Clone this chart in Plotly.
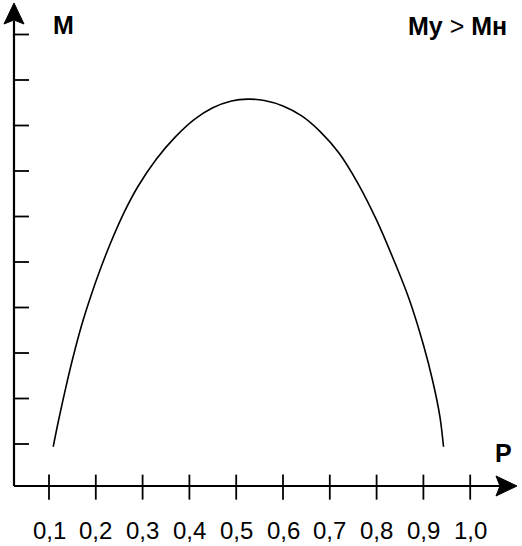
import plotly.graph_objects as go

# Curve M(P): points along the characteristic
P = [0.109, 0.120, 0.135, 0.150, 0.170, 0.190, 0.210, 0.230, 0.260, 0.290,
     0.330, 0.370, 0.410, 0.450, 0.490, 0.525, 0.560, 0.600, 0.640, 0.680,
     0.720, 0.760, 0.800, 0.840, 0.870, 0.900, 0.920, 0.935, 0.943]
M = [0.94, 1.50, 2.20, 2.85, 3.62, 4.27, 4.85, 5.38, 6.08, 6.66,
     7.27, 7.75, 8.13, 8.39, 8.54, 8.58, 8.55, 8.43, 8.21, 7.86,
     7.39, 6.73, 5.92, 4.96, 4.17, 3.18, 2.38, 1.62, 0.94]

# Axis ticks
P_TICKS = [0.1, 0.2, 0.3, 0.4, 0.5, 0.6, 0.7, 0.8, 0.9, 1.0]
P_LABELS = ["0,1", "0,2", "0,3", "0,4", "0,5", "0,6", "0,7", "0,8", "0,9", "1,0"]
M_TICKS = [1, 2, 3, 4, 5, 6, 7, 8, 9, 10]

W, H = 522, 546
X_RANGE = [-0.004701, 1.110684]
Y_RANGE = [-1.24176, 10.75824]

# positions of the drawn axis lines, in data units
AX_P = 0.0252
AX_M = 0.077


def px(x, y):
    """Pixel position -> paper coordinates."""
    return x / W, 1 - y / H


fig = go.Figure()
fig.add_trace(go.Scatter(x=P, y=M, mode="lines",
                         line=dict(color="black", width=1.6, shape="spline", smoothing=1.0),
                         hoverinfo="skip"))

shapes = []
# main axes lines
shapes.append(dict(type="line", xref="x", yref="y", x0=AX_P, x1=AX_P,
                   y0=AX_M, y1=Y_RANGE[1] - 0.45, line=dict(color="black", width=2.2)))
shapes.append(dict(type="line", xref="x", yref="y", x0=AX_P, x1=X_RANGE[1] - 0.03,
                   y0=AX_M, y1=AX_M, line=dict(color="black", width=2.2)))


def tri(points):
    pts = [px(*p) for p in points]
    return "M " + " L ".join(f"{a:.5f},{b:.5f}" for a, b in pts) + " Z"


# arrow heads
shapes.append(dict(type="path", xref="paper", yref="paper",
                   path=tri([(14, 3), (4, 24), (14, 20), (24, 24)]),
                   fillcolor="black", line=dict(color="black", width=1)))
shapes.append(dict(type="path", xref="paper", yref="paper",
                   path=tri([(517, 486), (496, 476), (500, 486), (496, 496)]),
                   fillcolor="black", line=dict(color="black", width=1)))

# y ticks (to the right of the axis)
for m in M_TICKS:
    shapes.append(dict(type="line", xref="x", yref="y", x0=AX_P, x1=AX_P + 0.032,
                       y0=m, y1=m, line=dict(color="black", width=1.8)))
# x ticks (crossing the axis)
for p in P_TICKS:
    shapes.append(dict(type="line", xref="x", yref="y", x0=p, x1=p,
                       y0=AX_M - 0.30, y1=AX_M + 0.25, line=dict(color="black", width=1.8)))

annotations = []
for p, lab in zip(P_TICKS, P_LABELS):
    annotations.append(dict(x=p, y=px(0, 530)[1], xref="x", yref="paper", text=lab,
                            showarrow=False, xanchor="center", yanchor="middle",
                            font=dict(family="Liberation Sans, Arial", size=24, color="black")))

bold = dict(family="Liberation Sans, Arial", size=25, color="black")
annotations.append(dict(x=px(63, 0)[0], y=px(0, 25)[1], xref="paper", yref="paper",
                        text="<b>M</b>", showarrow=False, xanchor="center", yanchor="middle",
                        font=bold))
annotations.append(dict(x=px(509, 0)[0], y=px(0, 26)[1], xref="paper", yref="paper",
                        text="<b>My</b> > <b>Mн</b>", showarrow=False, xanchor="right",
                        yanchor="middle", font=bold))
annotations.append(dict(x=px(503, 0)[0], y=px(0, 453)[1], xref="paper", yref="paper",
                        text="<b>P</b>", showarrow=False, xanchor="center", yanchor="middle",
                        font=bold))

fig.update_layout(
    width=W, height=H,
    margin=dict(l=0, r=0, t=0, b=0),
    paper_bgcolor="white", plot_bgcolor="white",
    showlegend=False,
    xaxis=dict(range=X_RANGE, visible=False, fixedrange=True),
    yaxis=dict(range=Y_RANGE, visible=False, fixedrange=True),
    shapes=shapes,
    annotations=annotations,
)

fig.write_html("out.html")
